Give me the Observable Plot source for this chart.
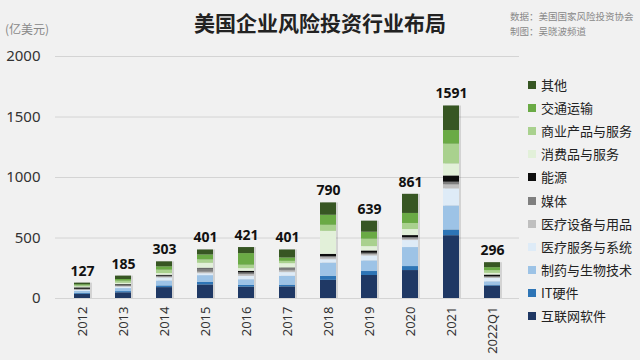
<!DOCTYPE html>
<html><head><meta charset="utf-8">
<script src="https://cdn.jsdelivr.net/npm/d3@7"></script>
<script src="https://cdn.jsdelivr.net/npm/@observablehq/plot@0.6"></script>
<style>
body{margin:0;background:#f1f1f1;}
#wrap{position:relative;width:640px;height:360px;background:#f1f1f1;overflow:hidden;font-family:"Noto Sans CJK SC","Noto Sans",sans-serif;}
#wrap svg{position:absolute;left:0;top:0;}
.title{position:absolute;left:0;width:640px;top:8px;text-align:center;font-size:21px;font-weight:700;color:#222;line-height:28px;}
.unit{position:absolute;left:5px;top:20px;font-size:12px;color:#888;}
.src{position:absolute;left:510px;font-size:9.5px;color:#888;line-height:12px;}
.leg{position:absolute;left:528px;font-size:13px;color:#222;line-height:16px;white-space:nowrap;}
.leg i{display:inline-block;width:8px;height:8px;margin-right:5px;vertical-align:1px;}
</style></head><body><div id="wrap"></div>
<script>
const years = ["2012","2013","2014","2015","2016","2017","2018","2019","2020","2021","2022Q1"];
const totals = [127,185,303,401,421,401,790,639,861,1591,296];
// series values (亿美元), stacked bottom to top
const internetSoftware = [35,47,90,112,94,96,150,190,231,519,102];
const itHardware       = [8,10,14,22,14,14,33,33,33,47,8];
const pharmaBiotech    = [15,25,41,55,47,74,110,88,157,199,28];
const healthServices   = [8,12,25,16,28,30,28,41,58,141,28];
const medicalDevices   = [5,6,6,12,14,14,15,10,12,33,6];
const media            = [5,6,8,28,14,19,10,12,12,22,8];
const energy           = [12,8,8,5,14,5,19,19,17,52,14];
const consumer         = [8,12,14,41,22,36,190,36,50,99,14];
const business         = [9,17,28,28,28,19,50,61,50,163,22];
const transport        = [9,14,28,41,96,28,83,58,83,113,25];
const other            = [13,28,41,41,50,66,102,91,158,203,41];

const seriesNames = ["互联网软件","IT硬件","制药与生物技术","医疗服务与系统","医疗设备与用品","媒体","能源","消费品与服务","商业产品与服务","交通运输","其他"];
const seriesValues = [internetSoftware,itHardware,pharmaBiotech,healthServices,medicalDevices,media,energy,consumer,business,transport,other];
const seriesColors = ["#1f3864","#2e75b6","#9dc3e6","#deebf7","#bfbfbf","#7f7f7f","#0d0d0d","#e2f0d9","#a9d18e","#6aaa45","#375623"];
const yTicks = [0,500,1000,1500,2000];

const rows = [];
years.forEach((yr,i)=>{
  seriesNames.forEach((s,j)=>rows.push({year:yr, series:s, value:seriesValues[j][i]}));
});
const totalRows = years.map((yr,i)=>({year:yr,total:totals[i]}));

const chart = Plot.plot({
  width:640, height:360,
  marginTop:56, marginBottom:62, marginLeft:55, marginRight:121,
  style:{background:"transparent", fontFamily:"'Noto Sans','Noto Sans CJK SC',sans-serif", overflow:"visible"},
  x:{domain:years, paddingInner:0.6, paddingOuter:0.35, label:null, axis:null},
  y:{domain:[0,2000], label:null, axis:null},
  color:{domain:seriesNames, range:seriesColors},
  marks:[
    Plot.gridY(yTicks,{stroke:"#d4d4d4", strokeOpacity:1}),
    Plot.barY(totalRows,{x:"year", y:"total", fill:"#000", fillOpacity:0.12, dx:2}),
    Plot.barY(rows,{x:"year", y:"value", fill:"series", order:seriesNames}),
    Plot.text(totalRows,{x:"year", y:"total", text:d=>String(d.total), dy:-12, fontSize:14, fontWeight:"bold", fill:"#111"}),
    Plot.axisY(yTicks,{tickSize:0, tickPadding:15, fontSize:15, fill:"#333", label:null, tickFormat:d=>String(d)}),
    Plot.axisX({tickSize:0, tickRotate:-90, tickPadding:8, fontSize:13, fill:"#333", label:null})
  ]
});
const wrap = document.getElementById("wrap");
wrap.appendChild(chart);

function addDiv(cls, html, top){
  const d=document.createElement("div"); d.className=cls; d.innerHTML=html;
  if(top!==undefined) d.style.top=top+"px";
  wrap.appendChild(d); return d;
}
addDiv("title","美国企业风险投资行业布局");
addDiv("unit","(亿美元)");
addDiv("src","数据：美国国家风险投资协会",10);
addDiv("src","制图：吴晓波频道",25);
const legendOrder = seriesNames.slice().reverse();
legendOrder.forEach((s,k)=>{
  const c = seriesColors[seriesNames.indexOf(s)];
  addDiv("leg",`<i style="background:${c}"></i>${s}`, 77 + k*23.1);
});
</script></body></html>
